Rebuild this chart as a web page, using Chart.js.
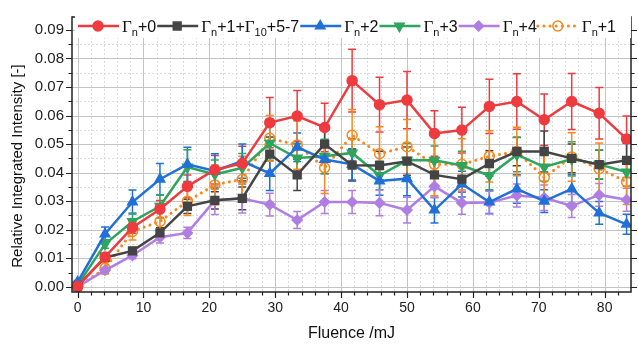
<!DOCTYPE html>
<html>
<head>
<meta charset="utf-8">
<script src="https://cdn.jsdelivr.net/npm/chart.js@4.4.0/dist/chart.umd.min.js"></script>
<style>
html, body { margin: 0; padding: 0; background: #fff; }
canvas { display: block; }
</style>
</head>
<body>
<canvas id="chart" width="638" height="344"></canvas>
<script>
// fluence values (mJ)
const fluence = [0, 4.17, 8.33, 12.5, 16.67, 20.83, 25, 29.17, 33.33, 37.5, 41.67, 45.83, 50, 54.17, 58.33, 62.5, 66.67, 70.83, 75, 79.17, 83.33];

const seriesNames = ['Γ_n+0', 'Γ_n+1+Γ_10+5-7', 'Γ_n+2', 'Γ_n+3', 'Γ_n+4', 'Γ_n+1'];

const red = [0.0002, 0.0105, 0.0208, 0.0272, 0.0352, 0.0410, 0.0432, 0.0575, 0.0598, 0.0558, 0.0722, 0.0638, 0.0654, 0.0537, 0.0549, 0.0632, 0.0649, 0.0585, 0.0649, 0.0608, 0.0518];
const redErr = [0.0005, 0.0012, 0.002, 0.003, 0.004, 0.005, 0.006, 0.0088, 0.009, 0.0085, 0.011, 0.0096, 0.01, 0.008, 0.008, 0.0095, 0.0097, 0.009, 0.0098, 0.009, 0.008];

const black = [0.0003, 0.0103, 0.0126, 0.0189, 0.0282, 0.0303, 0.0310, 0.0465, 0.0392, 0.0500, 0.0426, 0.0425, 0.0440, 0.0392, 0.0377, 0.0432, 0.0474, 0.0474, 0.0450, 0.0428, 0.0443];
const blackErr = [0.0005, 0.001, 0.0012, 0.0018, 0.0025, 0.003, 0.004, 0.006, 0.0055, 0.005, 0.0055, 0.005, 0.005, 0.0045, 0.0045, 0.0045, 0.005, 0.0072, 0.005, 0.005, 0.006];

const blue = [0.0017, 0.0185, 0.0297, 0.0377, 0.0429, 0.0406, 0.0440, 0.0397, 0.0489, 0.0446, 0.0429, 0.0371, 0.0379, 0.0269, 0.0360, 0.0297, 0.0343, 0.0300, 0.0343, 0.0259, 0.0219];
const blueErr = [0.0005, 0.0025, 0.0042, 0.0055, 0.006, 0.006, 0.006, 0.006, 0.005, 0.005, 0.0055, 0.005, 0.006, 0.0045, 0.0045, 0.004, 0.005, 0.004, 0.005, 0.004, 0.0035];

const green = [0.0006, 0.0150, 0.0229, 0.0282, 0.0420, 0.0394, 0.0417, 0.0503, 0.0451, 0.0457, 0.0469, 0.0390, 0.0443, 0.0443, 0.0425, 0.0390, 0.0463, 0.0420, 0.0448, 0.0429, 0.0402];
const greenErr = [0.0005, 0.0015, 0.003, 0.004, 0.006, 0.005, 0.005, 0.006, 0.005, 0.006, 0.005, 0.005, 0.006, 0.005, 0.005, 0.005, 0.006, 0.005, 0.006, 0.005, 0.005];

const purple = [0.0, 0.0058, 0.0110, 0.0174, 0.0189, 0.0303, 0.0309, 0.0288, 0.0234, 0.0297, 0.0297, 0.0294, 0.0269, 0.0352, 0.0294, 0.0295, 0.0320, 0.0312, 0.0283, 0.0322, 0.0305];
const purpleErr = [0.0005, 0.001, 0.0012, 0.002, 0.002, 0.005, 0.005, 0.004, 0.003, 0.004, 0.004, 0.0045, 0.0045, 0.004, 0.004, 0.004, 0.004, 0.0045, 0.004, 0.004, 0.004];

const orange = [0.0, 0.0065, 0.0194, 0.0229, 0.0300, 0.0357, 0.0377, 0.0520, 0.0497, 0.0417, 0.0531, 0.0466, 0.0491, 0.0429, 0.0429, 0.0457, 0.0474, 0.0383, 0.0455, 0.0414, 0.0368];
const orangeErr = [0.0005, 0.002, 0.003, 0.004, 0.005, 0.007, 0.008, 0.008, 0.0085, 0.009, 0.009, 0.0095, 0.0095, 0.011, 0.009, 0.009, 0.0085, 0.009, 0.0085, 0.009, 0.008];

const xTicks = [0, 10, 20, 30, 40, 50, 60, 70, 80];
const yTicks = [0, 0.01, 0.02, 0.03, 0.04, 0.05, 0.06, 0.07, 0.08, 0.09];

const SANS = '"Liberation Sans", Arial, sans-serif';
const SERIF = '"Liberation Serif", "Times New Roman", serif';

function pts(ys) {
    return ys.map((y, i) => ({ x: fluence[i], y: y }));
}

function makeSet(idx, ys, errs, color, style, extra) {
    return Object.assign({
        label: seriesNames[idx],
        data: pts(ys),
        errors: errs,
        borderColor: color,
        backgroundColor: color,
        pointBackgroundColor: color,
        pointBorderColor: color,
        borderWidth: 2.5,
        pointRadius: 5,
        pointBorderWidth: 1.5,
        pointStyle: style,
        pointRotation: 0,
        tension: 0,
        fill: false
    }, extra || {});
}

const datasets = [
    makeSet(0, red, redErr, '#ee3b3f', 'circle'),
    makeSet(1, black, blackErr, '#444444', 'rect', { pointRadius: 5.5 }),
    makeSet(2, blue, blueErr, '#2070d8', 'triangle', { pointRadius: 5.5 }),
    makeSet(3, green, greenErr, '#2fa45c', 'triangle', { pointRadius: 5.5, pointRotation: 180 }),
    makeSet(4, purple, purpleErr, '#b07ee3', 'rectRot', { pointRadius: 5 }),
    makeSet(5, orange, orangeErr, '#f7891f', 'circle', {
        borderWidth: 3, borderDash: [0.1, 6], borderCapStyle: 'round',
        pointBackgroundColor: 'rgba(255,255,255,0)', pointRadius: 5
    })
];

// grid, frame and tick marks like the Origin plot
const framePlugin = {
    id: 'frame',
    beforeDatasetsDraw(chart) {
        const ctx = chart.ctx;
        const a = chart.chartArea;
        const xs = chart.scales.x, ys = chart.scales.y;
        ctx.save();
        // minor grid (dotted)
        ctx.strokeStyle = '#dcdcdc';
        ctx.lineWidth = 1;
        ctx.setLineDash([2, 2]);
        ctx.beginPath();
        for (let v = 2; v < 84; v += 2) {
            if (v % 10 === 0) continue;
            const px = Math.round(xs.getPixelForValue(v)) + 0.5;
            ctx.moveTo(px, a.top); ctx.lineTo(px, a.bottom);
        }
        for (let k = 0; k < 10; k++) {
            const py = Math.round(ys.getPixelForValue(k * 0.01 + 0.005)) + 0.5;
            ctx.moveTo(a.left, py); ctx.lineTo(a.right, py);
        }
        ctx.stroke();
        ctx.setLineDash([]);
        // major grid
        ctx.strokeStyle = '#c4c4c4';
        ctx.beginPath();
        xTicks.forEach(v => {
            const px = Math.round(xs.getPixelForValue(v)) + 0.5;
            ctx.moveTo(px, a.top); ctx.lineTo(px, a.bottom);
        });
        yTicks.forEach(v => {
            const py = Math.round(ys.getPixelForValue(v)) + 0.5;
            ctx.moveTo(a.left, py); ctx.lineTo(a.right, py);
        });
        ctx.stroke();

        // error bars
        chart.data.datasets.forEach((ds, di) => {
            if (!chart.isDatasetVisible(di)) return;
            ctx.strokeStyle = ds.borderColor;
            ctx.lineWidth = 1.5;
            ctx.beginPath();
            ds.data.forEach((p, i) => {
                const e = ds.errors[i];
                const px = xs.getPixelForValue(p.x);
                const top = ys.getPixelForValue(p.y + e);
                const bot = ys.getPixelForValue(p.y - e);
                ctx.moveTo(px, top); ctx.lineTo(px, bot);
                ctx.moveTo(px - 4, top); ctx.lineTo(px + 4, top);
                ctx.moveTo(px - 4, bot); ctx.lineTo(px + 4, bot);
            });
            ctx.stroke();
        });
        ctx.restore();
    },
    afterDatasetsDraw(chart) {
        const ctx = chart.ctx;
        const a = chart.chartArea;
        const xs = chart.scales.x, ys = chart.scales.y;
        ctx.save();
        ctx.strokeStyle = '#222';
        ctx.lineWidth = 1.5;
        ctx.strokeRect(a.left, a.top, a.right - a.left, a.bottom - a.top);
        ctx.lineWidth = 1.2;
        ctx.beginPath();
        for (let v = 0; v < 84; v += 2) {
            const px = Math.round(xs.getPixelForValue(v)) + 0.5;
            const len = v % 10 === 0 ? 6 : 3.5;
            ctx.moveTo(px, a.bottom); ctx.lineTo(px, a.bottom + len);
            ctx.moveTo(px, a.top); ctx.lineTo(px, a.top + len);
        }
        for (let k = 0; k < 19; k++) {
            const py = Math.round(ys.getPixelForValue(k * 0.005)) + 0.5;
            const len = k % 2 === 0 ? 6 : 3.5;
            ctx.moveTo(a.left, py); ctx.lineTo(a.left - len, py);
            ctx.moveTo(a.right, py); ctx.lineTo(a.right + len, py);
        }
        ctx.stroke();

        // y axis title
        ctx.fillStyle = '#111';
        ctx.font = '15px ' + SANS;
        ctx.textAlign = 'center';
        ctx.textBaseline = 'middle';
        ctx.translate(18, 166);
        ctx.rotate(-Math.PI / 2);
        ctx.fillText('Relative Integrated Intensity [-]', 0, 0);
        ctx.restore();
    }
};

// legend with Γ and subscripts
function splitLabel(label) {
    const parts = [];
    const re = /Γ_([a-z0-9]+)/g;
    let last = 0, m;
    while ((m = re.exec(label)) !== null) {
        if (m.index > last) parts.push({ t: label.slice(last, m.index), k: 'txt' });
        parts.push({ t: 'Γ', k: 'gam' });
        parts.push({ t: m[1], k: 'sub' });
        last = re.lastIndex;
    }
    if (last < label.length) parts.push({ t: label.slice(last), k: 'txt' });
    return parts;
}

const legendPlugin = {
    id: 'originLegend',
    afterDraw(chart) {
        const ctx = chart.ctx;
        ctx.save();
        ctx.fillStyle = '#fff';
        ctx.fillRect(75, 14, 556, 24);
        let x = 78;
        const y = 26;
        chart.data.datasets.forEach((ds, i) => {
            ctx.strokeStyle = ds.borderColor;
            ctx.lineWidth = ds.borderWidth;
            ctx.setLineDash(ds.borderDash || []);
            ctx.lineCap = ds.borderCapStyle || 'butt';
            ctx.beginPath();
            ctx.moveTo(x, y); ctx.lineTo(x + 41, y);
            ctx.stroke();
            ctx.setLineDash([]);
            ctx.lineCap = 'butt';
            ctx.fillStyle = ds.pointBackgroundColor;
            ctx.strokeStyle = ds.pointBorderColor;
            ctx.lineWidth = ds.pointBorderWidth;
            Chart.helpers.drawPoint(ctx, {
                pointStyle: ds.pointStyle, rotation: ds.pointRotation,
                radius: ds.pointRadius, borderWidth: ds.pointBorderWidth
            }, x + 20, y);
            x += 44;
            ctx.fillStyle = '#111';
            ctx.textAlign = 'left';
            ctx.textBaseline = 'alphabetic';
            splitLabel(ds.label).forEach(p => {
                let by = y + 6;
                if (p.k === 'gam') ctx.font = '17px ' + SERIF;
                else if (p.k === 'sub') { ctx.font = '11px ' + SANS; by = y + 10; }
                else ctx.font = '16px ' + SANS;
                ctx.fillText(p.t, x, by);
                x += ctx.measureText(p.t).width;
            });
            x += 1;
        });
        ctx.restore();
    }
};

new Chart(document.getElementById('chart'), {
    type: 'line',
    data: { datasets: datasets },
    options: {
        responsive: false,
        animation: false,
        devicePixelRatio: 1,
        layout: { padding: { top: 11, right: 6, left: 0, bottom: 0 } },
        plugins: {
            legend: { display: false },
            tooltip: { enabled: false }
        },
        scales: {
            x: {
                type: 'linear',
                min: -0.85,
                max: 84,
                afterBuildTicks: s => { s.ticks = xTicks.map(v => ({ value: v })); },
                afterFit: s => { s.height = 52; },
                grid: { display: false, drawTicks: false },
                border: { display: false },
                ticks: {
                    padding: 8,
                    color: '#222',
                    font: { family: SANS, size: 14 },
                    callback: v => String(v)
                },
                title: {
                    display: true,
                    text: 'Fluence /mJ',
                    color: '#111',
                    font: { family: SANS, size: 16 },
                    padding: { top: 0, bottom: 1 }
                }
            },
            y: {
                type: 'linear',
                min: -0.0018,
                max: 0.0945,
                afterBuildTicks: s => { s.ticks = yTicks.map(v => ({ value: v })); },
                afterFit: s => { s.width = 72; },
                grid: { display: false, drawTicks: false },
                border: { display: false },
                ticks: {
                    padding: 8,
                    color: '#222',
                    font: { family: SANS, size: 15 },
                    callback: v => v.toFixed(2)
                }
            }
        }
    },
    plugins: [framePlugin, legendPlugin]
});
</script>
</body>
</html>
